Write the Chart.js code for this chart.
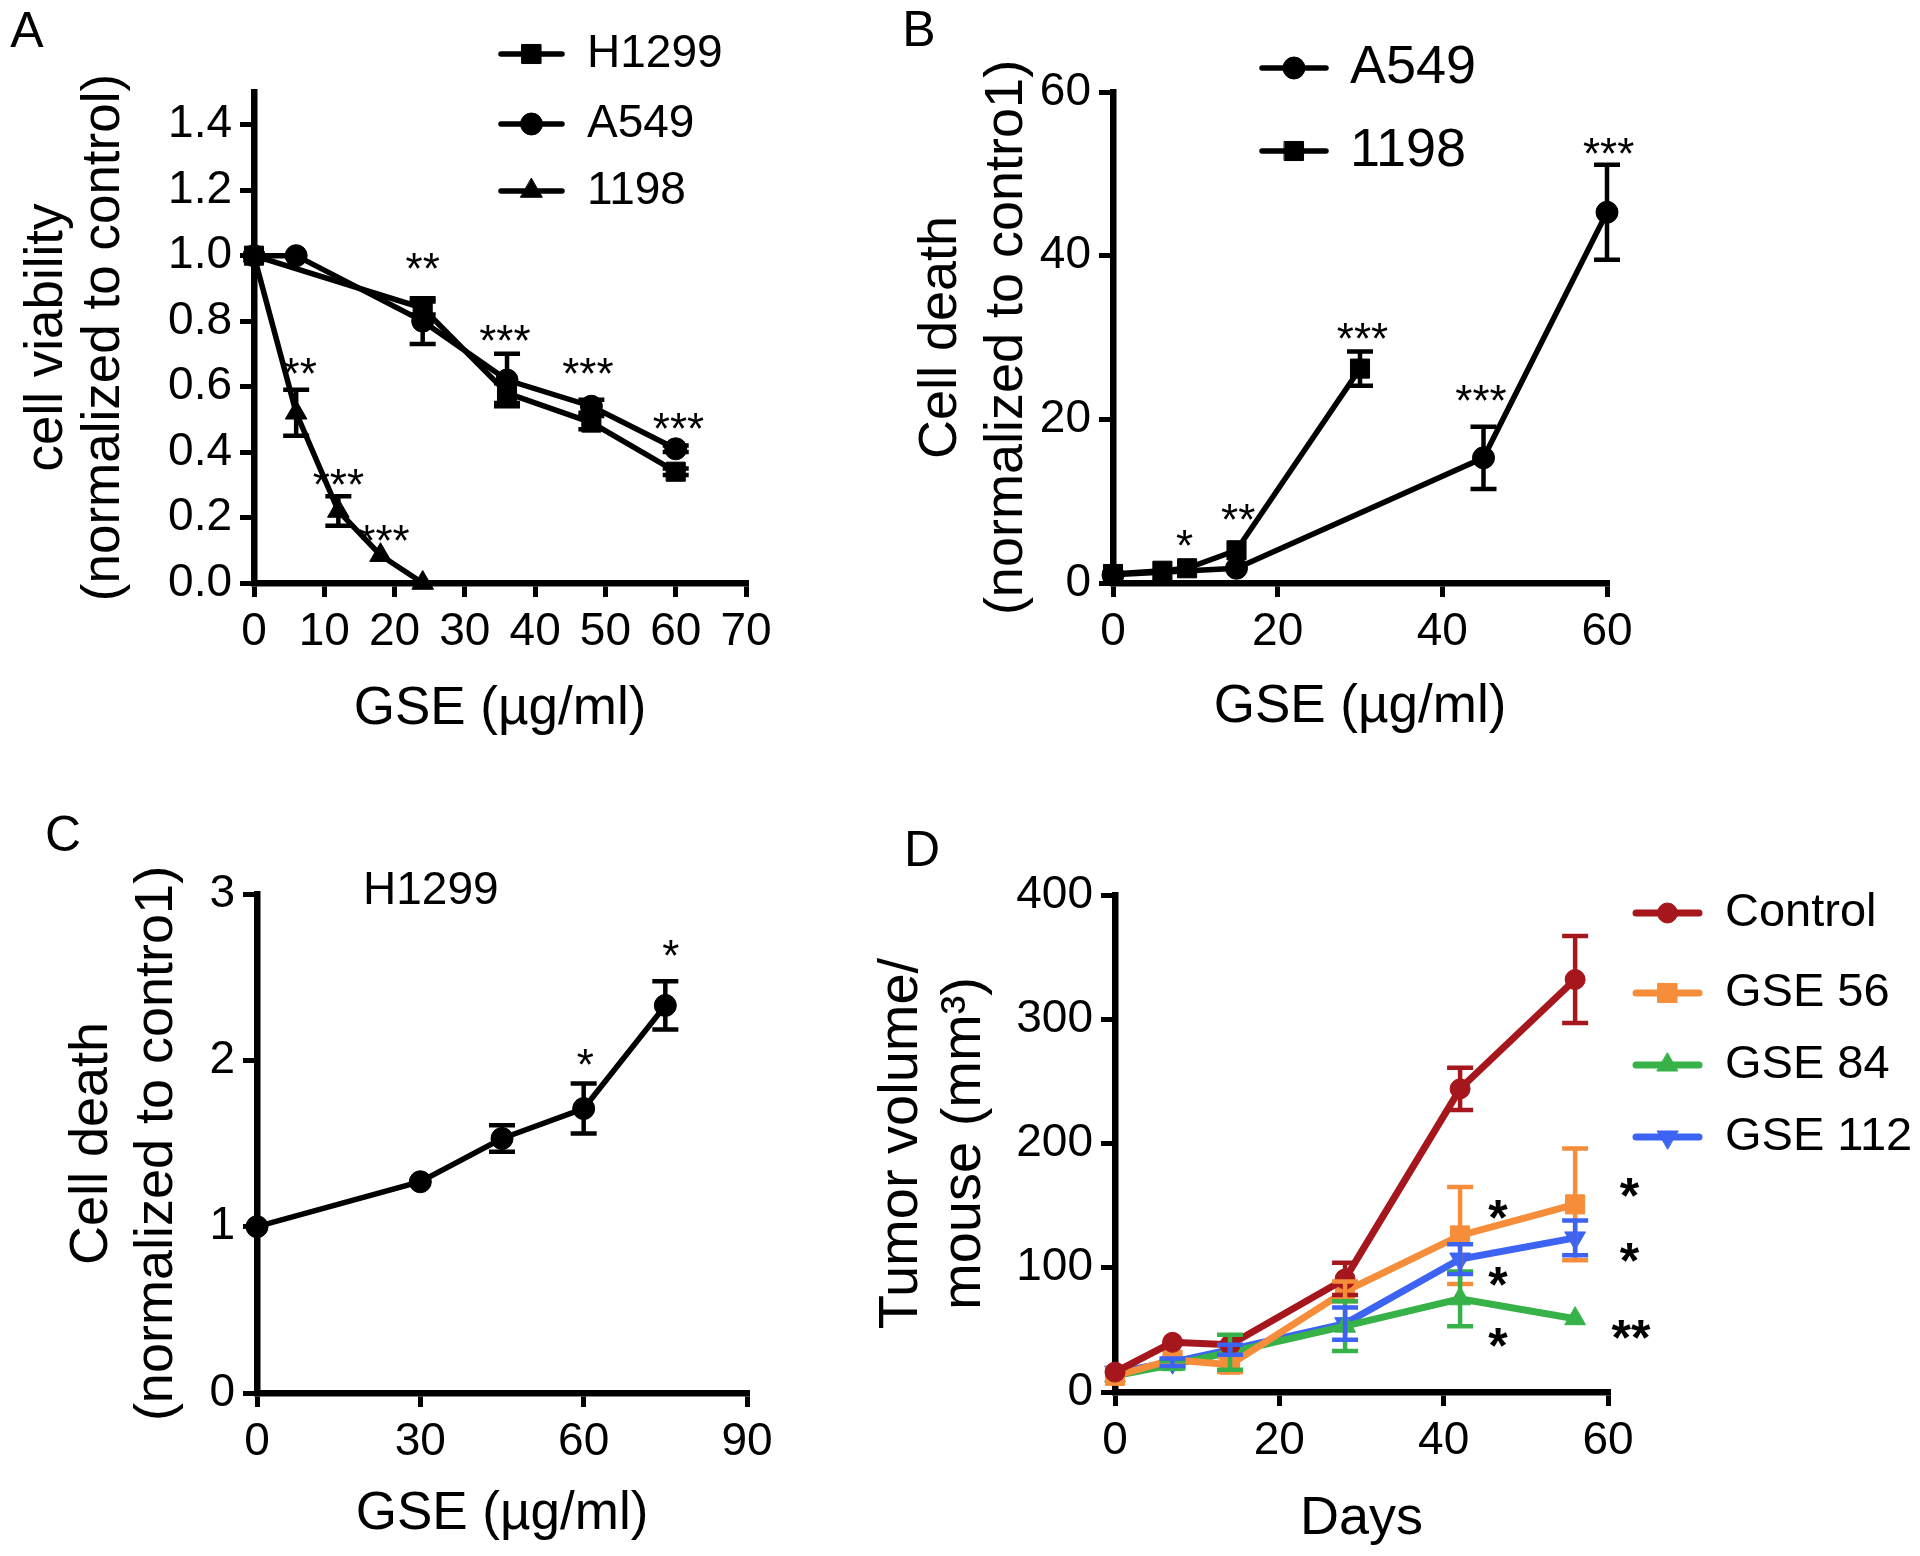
<!DOCTYPE html>
<html>
<head>
<meta charset="utf-8">
<title>GSE figure</title>
<script src="https://cdn.jsdelivr.net/npm/chart.js@4.4.1/dist/chart.umd.min.js"></script>
<style>
  html, body { margin: 0; padding: 0; background: #fff; }
  #page { position: relative; width: 1920px; height: 1556px; overflow: hidden; background: #fff; }
  #page canvas { position: absolute; }
</style>
</head>
<body>
<div id="page">
  <canvas id="panel-a" width="960" height="778" style="left:0;top:0"></canvas>
  <canvas id="panel-b" width="1040" height="778" style="left:880px;top:0"></canvas>
  <canvas id="panel-c" width="960" height="778" style="left:0;top:778px"></canvas>
  <canvas id="panel-d" width="1060" height="778" style="left:860px;top:778px"></canvas>
</div>
<script>
const FONT = "'Liberation Sans', Arial, Helvetica, sans-serif";

// ── Panel A: cell viability ──────────────────────────────────────────────────
const aH1299X   = [0, 24, 36, 48, 60];
const aH1299Y   = [1.00, 0.84, 0.58, 0.49, 0.34];
const aH1299Err = [0, 0.02, 0.03, 0.02, 0.01];
const aA549X    = [0, 6, 24, 36, 48, 60];
const aA549Y    = [1.00, 1.00, 0.80, 0.62, 0.54, 0.41];
const aA549Err  = [0, 0, 0.07, 0.08, 0.02, 0.01];
const a1198X    = [0, 6, 12, 18, 24];
const a1198Y    = [1.00, 0.52, 0.22, 0.085, 0.0];
const a1198Err  = [0, 0.07, 0.045, 0, 0];
const aStars    = [[6.5, 0.67, '**'], [12, 0.33, '***'], [18.5, 0.16, '***'], [24, 0.99, '**'],
                   [35.7, 0.77, '***'], [47.5, 0.67, '***'], [60.4, 0.50, '***']];

// ── Panel B: cell death, A549 / 1198 ─────────────────────────────────────────
const bA549X    = [0, 15, 45, 60];
const bA549Y    = [1.0, 1.8, 15.3, 45.3];
const bA549Err  = [0, 0, 3.8, 5.8];
const b1198X    = [0, 6, 9, 15, 30];
const b1198Y    = [1.1, 1.5, 1.8, 4.0, 26.2];
const b1198Err  = [0, 0, 0, 0, 2.1];
const bStars    = [[8.7, 5.7, '*'], [15.2, 8.9, '**'], [30.3, 31.1, '***'], [44.7, 23.5, '***'], [60.2, 53.7, '***']];

// ── Panel C: cell death, H1299 ───────────────────────────────────────────────
const cDose     = [0, 30, 45, 60, 75];
const cDeath    = [1.0, 1.27, 1.53, 1.71, 2.33];
const cErr      = [0, 0, 0.08, 0.15, 0.145];
const cStars    = [[60.3, 2.03, '*'], [76, 2.69, '*']];

// ── Panel D: tumor volume ────────────────────────────────────────────────────
const dDays       = [0, 7, 14, 28, 42, 56];
const dControl    = [16, 40, 38, 91, 244, 332];
const dControlErr = [0, 0, 0, 13, 17, 35];
const dGse56      = [13, 26, 22, 81, 126, 151];
const dGse56Err   = [0, 0, 6, 8, 39, 45];
const dGse84      = [13, 22, 32, 53, 75, 59];
const dGse84Err   = [0, 3, 14, 20, 22, 0];
const dGse112     = [16, 24, 34, 55, 107, 124];
const dGse112Err  = [0, 3, 4, 13, 12, 14];
const dStars      = [[46.6, 149, '*'], [46.6, 95, '*'], [46.6, 46, '*'],
                     [62.6, 167, '*'], [62.6, 115, '*'], [62.8, 53, '**']];

// ── helpers ──────────────────────────────────────────────────────────────────
const pts = (xs, ys) => xs.map((x, i) => ({ x, y: ys[i] }));

function series(label, xs, ys, errs, color, style, radius, width, rotation = 0) {
  return {
    label,
    data: pts(xs, ys),
    errors: errs,
    borderColor: color,
    backgroundColor: color,
    borderWidth: width,
    pointStyle: style,
    pointRadius: radius,
    pointRotation: rotation,
    pointBorderWidth: 1,
    pointBackgroundColor: color,
    pointBorderColor: color,
    tension: 0,
    clip: false,
  };
}

function axis(o) {
  return {
    type: 'linear',
    position: o.position,
    min: o.min,
    max: o.max,
    afterFit: s => { if (o.position === 'left') s.width = o.size; else s.height = o.size; },
    grid: { display: true, drawOnChartArea: false, drawTicks: true, tickLength: 14, lineWidth: 5, color: '#000' },
    border: { display: true, width: 6.5, color: '#000' },
    ticks: {
      stepSize: o.step, includeBounds: false, autoSkip: false, maxRotation: 0,
      color: '#000', padding: 8,
      font: { family: FONT, size: o.tickSize || 46 },
      callback: o.fmt || (v => String(v)),
    },
    title: {
      display: true, text: o.title, color: '#000',
      font: { family: FONT, size: o.titleSize, lineHeight: o.titleLH },
      padding: o.position === 'left' ? { top: o.titlePad, bottom: 0 } : { top: 0, bottom: o.titlePad },
    },
  };
}

function drawMarker(ctx, ds, cx, cy) {
  ctx.fillStyle = ds.pointBackgroundColor;
  ctx.strokeStyle = ds.pointBorderColor;
  ctx.lineWidth = 1;
  Chart.helpers.drawPoint(ctx, { pointStyle: ds.pointStyle, radius: ds.pointRadius, rotation: ds.pointRotation, borderWidth: 1 }, cx, cy);
}

function extras(ex) {
  return {
    id: 'panelExtras',
    afterDatasetsDraw(chart) {
      const { ctx, scales: { x, y } } = chart;
      ctx.save();
      chart.data.datasets.forEach(ds => {
        ctx.strokeStyle = ds.borderColor;
        ctx.lineWidth = ex.errWidth;
        ds.data.forEach((p, i) => {
          const e = ds.errors[i];
          if (!e) return;
          const px = x.getPixelForValue(p.x);
          const top = y.getPixelForValue(p.y + e);
          const bot = y.getPixelForValue(Math.max(p.y - e, y.min));
          ctx.beginPath();
          ctx.moveTo(px, top); ctx.lineTo(px, bot);
          ctx.moveTo(px - ex.cap, top); ctx.lineTo(px + ex.cap, top);
          ctx.moveTo(px - ex.cap, bot); ctx.lineTo(px + ex.cap, bot);
          ctx.stroke();
        });
      });
      ctx.restore();
    },
    afterDraw(chart) {
      const { ctx, scales: { x, y } } = chart;
      const ox = ex.ox, oy = ex.oy;
      ctx.save();
      ctx.fillStyle = '#000';

      // panel letter
      ctx.font = `50px ${FONT}`;
      ctx.textAlign = 'center';
      ctx.textBaseline = 'middle';
      ctx.fillText(ex.letter[0], ex.letter[1] - ox, ex.letter[2] - oy);

      // subtitle
      if (ex.subtitle) {
        ctx.font = `46px ${FONT}`;
        ctx.textAlign = 'left';
        ctx.fillText(ex.subtitle[0], ex.subtitle[1] - ox, ex.subtitle[2] - oy);
      }

      // significance stars
      ctx.font = `${ex.starFont} ${ex.starSize}px ${FONT}`;
      ctx.textAlign = 'center';
      ctx.textBaseline = 'alphabetic';
      ex.stars.forEach(([sx, sy, s]) => {
        ctx.fillText(s, x.getPixelForValue(sx), y.getPixelForValue(sy) + ex.starSize * 0.57);
      });

      // legend: line with marker, then label
      const L = ex.legend;
      if (L) {
        chart.data.datasets.forEach((ds, i) => {
          const yy = L.rows[i] - oy;
          ctx.strokeStyle = ds.borderColor;
          ctx.lineWidth = ds.borderWidth;
          ctx.lineCap = 'round';
          ctx.beginPath();
          ctx.moveTo(L.x1 - ox, yy); ctx.lineTo(L.x2 - ox, yy);
          ctx.stroke();
          drawMarker(ctx, ds, (L.x1 + L.x2) / 2 - ox, yy);
          ctx.fillStyle = '#000';
          ctx.font = `${L.size}px ${FONT}`;
          ctx.textAlign = 'left';
          ctx.textBaseline = 'middle';
          ctx.fillText(ds.label, L.tx - ox, yy);
        });
      }
      ctx.restore();
    },
  };
}

function makeChart(id, datasets, scales, padding, ex) {
  return new Chart(document.getElementById(id), {
    type: 'line',
    data: { datasets },
    options: {
      responsive: false,
      animation: false,
      devicePixelRatio: 1,
      layout: { padding },
      scales,
      plugins: { legend: { display: false }, tooltip: { enabled: false } },
    },
    plugins: [extras(ex)],
  });
}

// ── Panel A ──────────────────────────────────────────────────────────────────
makeChart('panel-a', [
  series('H1299', aH1299X, aH1299Y, aH1299Err, '#000', 'rect', 13.5, 5.5),
  series('A549',  aA549X,  aA549Y,  aA549Err,  '#000', 'circle', 11, 5.5),
  series('1198',  a1198X,  a1198Y,  a1198Err,  '#000', 'triangle', 12.5, 5.5),
], {
  x: axis({ position: 'bottom', min: 0, max: 70, step: 10, size: 195,
            title: 'GSE (µg/ml)', titleSize: 53, titleLH: 1.2, titlePad: 37 }),
  y: axis({ position: 'left', min: 0, max: 1.5, step: 0.2, size: 254, fmt: v => v.toFixed(1),
            title: ['cell viability', '(normalized to control)'], titleSize: 53, titleLH: 1.08, titlePad: 19 }),
}, { left: 0, top: 92, right: 214, bottom: 0 }, {
  ox: 0, oy: 0, letter: ['A', 27, 33], stars: aStars, starSize: 44, starFont: 'normal',
  errWidth: 4.5, cap: 13,
  legend: { x1: 501, x2: 562, tx: 587, size: 46, rows: [54, 124, 191] },
});

// ── Panel B ──────────────────────────────────────────────────────────────────
makeChart('panel-b', [
  series('A549', bA549X, bA549Y, bA549Err, '#000', 'circle', 11, 5.5),
  series('1198', b1198X, b1198Y, b1198Err, '#000', 'rect', 13.5, 5.5),
], {
  x: axis({ position: 'bottom', min: 0, max: 60, step: 20, size: 195,
            title: 'GSE (µg/ml)', titleSize: 53, titleLH: 1.2, titlePad: 39 }),
  y: axis({ position: 'left', min: 0, max: 60, step: 20, size: 233,
            title: ['Cell death', '(normalized to contro1)'], titleSize: 54, titleLH: 1.22, titlePad: 28 }),
}, { left: 0, top: 92, right: 313, bottom: 0 }, {
  ox: 880, oy: 0, letter: ['B', 919, 32], stars: bStars, starSize: 44, starFont: 'normal',
  errWidth: 4.5, cap: 13,
  legend: { x1: 1262, x2: 1326, tx: 1350, size: 54, rows: [68, 151] },
});

// ── Panel C ──────────────────────────────────────────────────────────────────
makeChart('panel-c', [
  series('H1299', cDose, cDeath, cErr, '#000', 'circle', 11, 5.5),
], {
  x: axis({ position: 'bottom', min: 0, max: 90, step: 30, size: 163,
            title: 'GSE (µg/ml)', titleSize: 53, titleLH: 1.2, titlePad: 10 }),
  y: axis({ position: 'left', min: 0, max: 3, step: 1, size: 257,
            title: ['Cell death', '(normalized to contro1)'], titleSize: 54, titleLH: 1.2, titlePad: 60 }),
}, { left: 0, top: 116, right: 213, bottom: 0 }, {
  ox: 0, oy: 778, letter: ['C', 63, 837], subtitle: ['H1299', 363, 891],
  stars: cStars, starSize: 44, starFont: 'normal', errWidth: 4.5, cap: 13,
});

// ── Panel D ──────────────────────────────────────────────────────────────────
makeChart('panel-d', [
  series('Control', dDays, dControl, dControlErr, '#a5171c', 'circle', 10, 7),
  series('GSE 56',  dDays, dGse56,   dGse56Err,   '#f68d3a', 'rect', 13.5, 7),
  series('GSE 84',  dDays, dGse84,   dGse84Err,   '#36b249', 'triangle', 12, 7),
  series('GSE 112', dDays, dGse112,  dGse112Err,  '#3d63f2', 'triangle', 12, 7, 180),
], {
  x: axis({ position: 'bottom', min: 0, max: 60, step: 20, size: 164,
            title: 'Days', titleSize: 54, titleLH: 1.2, titlePad: 4 }),
  y: axis({ position: 'left', min: 0, max: 400, step: 100, size: 255,
            title: ['Tumor volume/', 'mouse (mm³)'], titleSize: 56, titleLH: 1.13, titlePad: 10 }),
}, { left: 0, top: 117, right: 312, bottom: 0 }, {
  ox: 860, oy: 778, letter: ['D', 922, 852], stars: dStars, starSize: 50, starFont: 'bold',
  errWidth: 4.5, cap: 13,
  legend: { x1: 1636, x2: 1699, tx: 1725, size: 47, rows: [913, 993, 1065, 1137] },
});
</script>
</body>
</html>
